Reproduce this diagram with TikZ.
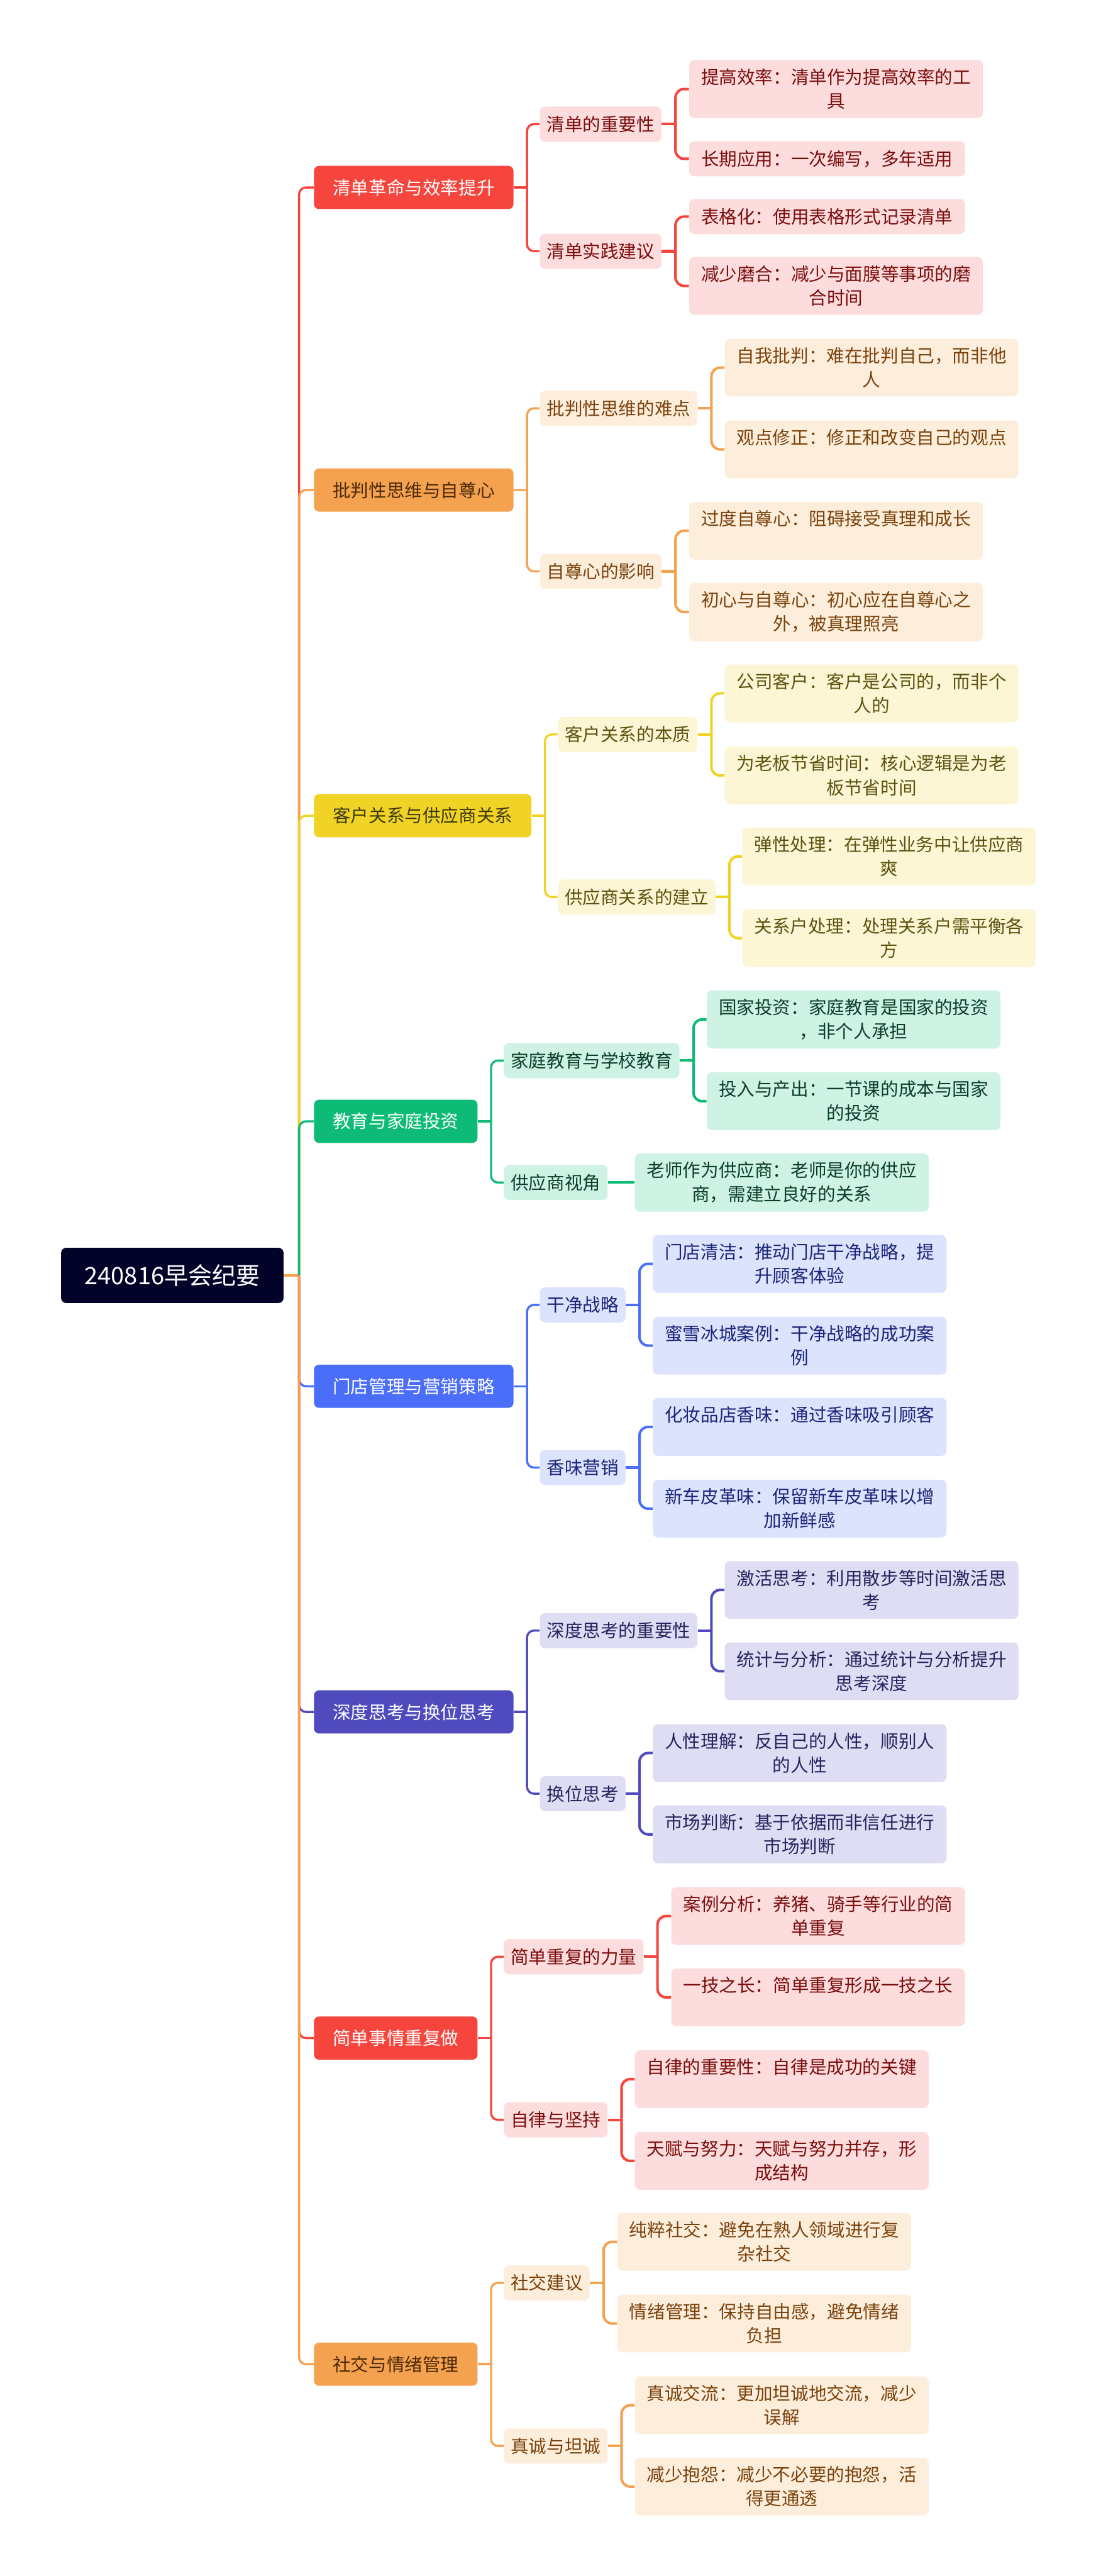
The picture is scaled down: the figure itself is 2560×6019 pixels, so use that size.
\documentclass[tikz,border=0pt]{standalone}
\usepackage{fontspec}
\setmainfont{Noto Sans CJK SC}
\usepackage{tikz}
\usetikzlibrary{positioning}
\definecolor{rootC}{HTML}{03032A}
\definecolor{redM}{HTML}{F5453D}\definecolor{redL}{HTML}{FCDCDC}\definecolor{redT}{HTML}{7B0C0C}
\definecolor{oraM}{HTML}{F4A250}\definecolor{oraL}{HTML}{FDEEDC}\definecolor{oraT}{HTML}{7A420C}\definecolor{oraD}{HTML}{4D2A05}
\definecolor{yelM}{HTML}{F1D326}\definecolor{yelL}{HTML}{FCF6D5}\definecolor{yelT}{HTML}{5C5210}\definecolor{yelD}{HTML}{3E3A0E}
\definecolor{grnM}{HTML}{0DBB77}\definecolor{grnL}{HTML}{CEF3E4}\definecolor{grnT}{HTML}{0B3D2B}
\definecolor{bluM}{HTML}{4B6EF9}\definecolor{bluL}{HTML}{DCE3FD}\definecolor{bluT}{HTML}{1B2678}
\definecolor{purM}{HTML}{4F4BBE}\definecolor{purL}{HTML}{DEDDF3}\definecolor{purT}{HTML}{27235E}
\tikzset{
  box/.style={rectangle,rounded corners=0.12cm,align=center,anchor=west,inner ysep=0pt},
  rootbox/.style={box,fill=rootC,text=white,font=\fontsize{15.9pt}{20pt}\selectfont,
    inner xsep=0.55cm,minimum height=1.29cm},
  topic/.style 2 args={box,fill=#1,text=#2,font=\fontsize{11.95pt}{15.94pt}\selectfont,
    inner xsep=0.44cm,minimum height=1.01cm},
  sub/.style 2 args={box,fill=#1,text=#2,font=\fontsize{11.95pt}{15.94pt}\selectfont,
    inner xsep=0.16cm,minimum height=0.82cm},
  leaf/.style 2 args={box,fill=#1,text=#2,font=\fontsize{11.95pt}{15.94pt}\selectfont,
    inner xsep=0.28cm,inner ysep=0.2cm,minimum height=0.82cm},
  trunk/.style={line width=0.05cm,rounded corners=0.16cm},
  twig/.style={line width=0.06cm,rounded corners=0.2cm},
}

\begin{document}
\begin{tikzpicture}[x=0.01cm,y=-0.01cm]
  \fill[white] (0,0) rectangle (2560,6019);
  \useasboundingbox (0,0) rectangle (2560,6019);

  \node[rootbox] (root) at (142,2980) {240816早会纪要};
  \coordinate (hub) at (699,2980);

  % 清单革命与效率提升
  \node[topic={redM}{white}] (b1) at (733,438) {清单革命与效率提升};
  \node[sub={redL}{redT}] (b1a) at (1261,290) {清单的重要性};
  \node[sub={redL}{redT}] (b1b) at (1261,587) {清单实践建议};
  \node[leaf={redL}{redT}] (b1a1) at (1610,208) {提高效率：清单作为提高效率的工\\具};
  \node[leaf={redL}{redT}] (b1a2) at (1610,371) {长期应用：一次编写，多年适用};
  \node[leaf={redL}{redT}] (b1b1) at (1610,506) {表格化：使用表格形式记录清单};
  \node[leaf={redL}{redT}] (b1b2) at (1610,668) {减少磨合：减少与面膜等事项的磨\\合时间};

  % 批判性思维与自尊心
  \node[topic={oraM}{oraD}] (b2) at (733,1145) {批判性思维与自尊心};
  \node[sub={oraL}{oraT}] (b2a) at (1261,954) {批判性思维的难点};
  \node[sub={oraL}{oraT}] (b2b) at (1261,1335) {自尊心的影响};
  \node[leaf={oraL}{oraT}] (b2a1) at (1693,859) {自我批判：难在批判自己，而非他\\人};
  \node[leaf={oraL}{oraT}] (b2a2) at (1693,1050) {观点修正：修正和改变自己的观点\\\phantom{观}};
  \node[leaf={oraL}{oraT}] (b2b1) at (1610,1240) {过度自尊心：阻碍接受真理和成长\\\phantom{观}};
  \node[leaf={oraL}{oraT}] (b2b2) at (1610,1430) {初心与自尊心：初心应在自尊心之\\外，被真理照亮};

  % 客户关系与供应商关系
  \node[topic={yelM}{yelD}] (b3) at (733,1906) {客户关系与供应商关系};
  \node[sub={yelL}{yelT}] (b3a) at (1303,1716) {客户关系的本质};
  \node[sub={yelL}{yelT}] (b3b) at (1303,2096) {供应商关系的建立};
  \node[leaf={yelL}{yelT}] (b3a1) at (1693,1620) {公司客户：客户是公司的，而非个\\人的};
  \node[leaf={yelL}{yelT}] (b3a2) at (1693,1812) {为老板节省时间：核心逻辑是为老\\板节省时间};
  \node[leaf={yelL}{yelT}] (b3b1) at (1734,2001) {弹性处理：在弹性业务中让供应商\\爽};
  \node[leaf={yelL}{yelT}] (b3b2) at (1734,2192) {关系户处理：处理关系户需平衡各\\方};

  % 教育与家庭投资
  \node[topic={grnM}{white}] (b4) at (733,2620) {教育与家庭投资};
  \node[sub={grnL}{grnT}] (b4a) at (1177,2478) {家庭教育与学校教育};
  \node[sub={grnL}{grnT}] (b4b) at (1177,2763) {供应商视角};
  \node[leaf={grnL}{grnT}] (b4a1) at (1651,2382) {国家投资：家庭教育是国家的投资\\，非个人承担};
  \node[leaf={grnL}{grnT}] (b4a2) at (1651,2573) {投入与产出：一节课的成本与国家\\的投资};
  \node[leaf={grnL}{grnT}] (b4b1) at (1483,2763) {老师作为供应商：老师是你的供应\\商，需建立良好的关系};

  % 门店管理与营销策略
  \node[topic={bluM}{white}] (b5) at (733,3239) {门店管理与营销策略};
  \node[sub={bluL}{bluT}] (b5a) at (1261,3049) {干净战略};
  \node[sub={bluL}{bluT}] (b5b) at (1261,3429) {香味营销};
  \node[leaf={bluL}{bluT}] (b5a1) at (1525,2953) {门店清洁：推动门店干净战略，提\\升顾客体验};
  \node[leaf={bluL}{bluT}] (b5a2) at (1525,3144) {蜜雪冰城案例：干净战略的成功案\\例};
  \node[leaf={bluL}{bluT}] (b5b1) at (1525,3334) {化妆品店香味：通过香味吸引顾客\\\phantom{观}};
  \node[leaf={bluL}{bluT}] (b5b2) at (1525,3525) {新车皮革味：保留新车皮革味以增\\加新鲜感};

  % 深度思考与换位思考
  \node[topic={purM}{white}] (b6) at (733,4000) {深度思考与换位思考};
  \node[sub={purL}{purT}] (b6a) at (1261,3810) {深度思考的重要性};
  \node[sub={purL}{purT}] (b6b) at (1261,4191) {换位思考};
  \node[leaf={purL}{purT}] (b6a1) at (1693,3715) {激活思考：利用散步等时间激活思\\考};
  \node[leaf={purL}{purT}] (b6a2) at (1693,3905) {统计与分析：通过统计与分析提升\\思考深度};
  \node[leaf={purL}{purT}] (b6b1) at (1525,4096) {人性理解：反自己的人性，顺别人\\的人性};
  \node[leaf={purL}{purT}] (b6b2) at (1525,4286) {市场判断：基于依据而非信任进行\\市场判断};

  % 简单事情重复做
  \node[topic={redM}{white}] (b7) at (733,4762) {简单事情重复做};
  \node[sub={redL}{redT}] (b7a) at (1177,4572) {简单重复的力量};
  \node[sub={redL}{redT}] (b7b) at (1177,4953) {自律与坚持};
  \node[leaf={redL}{redT}] (b7a1) at (1568,4477) {案例分析：养猪、骑手等行业的简\\单重复};
  \node[leaf={redL}{redT}] (b7a2) at (1568,4667) {一技之长：简单重复形成一技之长\\\phantom{观}};
  \node[leaf={redL}{redT}] (b7b1) at (1483,4858) {自律的重要性：自律是成功的关键\\\phantom{观}};
  \node[leaf={redL}{redT}] (b7b2) at (1483,5049) {天赋与努力：天赋与努力并存，形\\成结构};

  % 社交与情绪管理
  \node[topic={oraM}{oraD}] (b8) at (733,5524) {社交与情绪管理};
  \node[sub={oraL}{oraT}] (b8a) at (1177,5334) {社交建议};
  \node[sub={oraL}{oraT}] (b8b) at (1177,5715) {真诚与坦诚};
  \node[leaf={oraL}{oraT}] (b8a1) at (1442,5238) {纯粹社交：避免在熟人领域进行复\\杂社交};
  \node[leaf={oraL}{oraT}] (b8a2) at (1442,5429) {情绪管理：保持自由感，避免情绪\\负担};
  \node[leaf={oraL}{oraT}] (b8b1) at (1483,5620) {真诚交流：更加坦诚地交流，减少\\误解};
  \node[leaf={oraL}{oraT}] (b8b2) at (1483,5810) {减少抱怨：减少不必要的抱怨，活\\得更通透};

  % connectors, in branch order so the later ones lie on top
  \draw[trunk,oraM] (root.east) -- (hub);

  \draw[trunk,redM] (hub) |- (b1.west);
  \draw[trunk,redM] (b1.east) -- ++(31,0) coordinate (b1h);
  \draw[trunk,redM] (b1h) |- (b1a.west) (b1h) |- (b1b.west);
  \draw[twig,redM] (b1a.east) -- ++(32,0) coordinate (b1ah);
  \draw[twig,redM] (b1ah) |- (b1a1.west) (b1ah) |- (b1a2.west);
  \draw[twig,redM] (b1b.east) -- ++(32,0) coordinate (b1bh);
  \draw[twig,redM] (b1bh) |- (b1b1.west) (b1bh) |- (b1b2.west);

  \draw[trunk,oraM] (hub) |- (b2.west);
  \draw[trunk,oraM] (b2.east) -- ++(31,0) coordinate (b2h);
  \draw[trunk,oraM] (b2h) |- (b2a.west) (b2h) |- (b2b.west);
  \draw[twig,oraM] (b2a.east) -- ++(32,0) coordinate (b2ah);
  \draw[twig,oraM] (b2ah) |- (b2a1.west) (b2ah) |- (b2a2.west);
  \draw[twig,oraM] (b2b.east) -- ++(32,0) coordinate (b2bh);
  \draw[twig,oraM] (b2bh) |- (b2b1.west) (b2bh) |- (b2b2.west);

  \draw[trunk,yelM] (hub) |- (b3.west);
  \draw[trunk,yelM] (b3.east) -- ++(31,0) coordinate (b3h);
  \draw[trunk,yelM] (b3h) |- (b3a.west) (b3h) |- (b3b.west);
  \draw[twig,yelM] (b3a.east) -- ++(32,0) coordinate (b3ah);
  \draw[twig,yelM] (b3ah) |- (b3a1.west) (b3ah) |- (b3a2.west);
  \draw[twig,yelM] (b3b.east) -- ++(32,0) coordinate (b3bh);
  \draw[twig,yelM] (b3bh) |- (b3b1.west) (b3bh) |- (b3b2.west);

  \draw[trunk,grnM] (hub) |- (b4.west);
  \draw[trunk,grnM] (b4.east) -- ++(31,0) coordinate (b4h);
  \draw[trunk,grnM] (b4h) |- (b4a.west) (b4h) |- (b4b.west);
  \draw[twig,grnM] (b4a.east) -- ++(32,0) coordinate (b4ah);
  \draw[twig,grnM] (b4ah) |- (b4a1.west) (b4ah) |- (b4a2.west);
  \draw[twig,grnM] (b4b.east) -- (b4b1.west);

  \draw[trunk,bluM] (hub) |- (b5.west);
  \draw[trunk,bluM] (b5.east) -- ++(31,0) coordinate (b5h);
  \draw[trunk,bluM] (b5h) |- (b5a.west) (b5h) |- (b5b.west);
  \draw[twig,bluM] (b5a.east) -- ++(32,0) coordinate (b5ah);
  \draw[twig,bluM] (b5ah) |- (b5a1.west) (b5ah) |- (b5a2.west);
  \draw[twig,bluM] (b5b.east) -- ++(32,0) coordinate (b5bh);
  \draw[twig,bluM] (b5bh) |- (b5b1.west) (b5bh) |- (b5b2.west);

  \draw[trunk,purM] (hub) |- (b6.west);
  \draw[trunk,purM] (b6.east) -- ++(31,0) coordinate (b6h);
  \draw[trunk,purM] (b6h) |- (b6a.west) (b6h) |- (b6b.west);
  \draw[twig,purM] (b6a.east) -- ++(32,0) coordinate (b6ah);
  \draw[twig,purM] (b6ah) |- (b6a1.west) (b6ah) |- (b6a2.west);
  \draw[twig,purM] (b6b.east) -- ++(32,0) coordinate (b6bh);
  \draw[twig,purM] (b6bh) |- (b6b1.west) (b6bh) |- (b6b2.west);

  \draw[trunk,redM] (hub) |- (b7.west);
  \draw[trunk,redM] (b7.east) -- ++(31,0) coordinate (b7h);
  \draw[trunk,redM] (b7h) |- (b7a.west) (b7h) |- (b7b.west);
  \draw[twig,redM] (b7a.east) -- ++(32,0) coordinate (b7ah);
  \draw[twig,redM] (b7ah) |- (b7a1.west) (b7ah) |- (b7a2.west);
  \draw[twig,redM] (b7b.east) -- ++(32,0) coordinate (b7bh);
  \draw[twig,redM] (b7bh) |- (b7b1.west) (b7bh) |- (b7b2.west);

  \draw[trunk,oraM] (hub) |- (b8.west);
  \draw[trunk,oraM] (b8.east) -- ++(31,0) coordinate (b8h);
  \draw[trunk,oraM] (b8h) |- (b8a.west) (b8h) |- (b8b.west);
  \draw[twig,oraM] (b8a.east) -- ++(32,0) coordinate (b8ah);
  \draw[twig,oraM] (b8ah) |- (b8a1.west) (b8ah) |- (b8a2.west);
  \draw[twig,oraM] (b8b.east) -- ++(32,0) coordinate (b8bh);
  \draw[twig,oraM] (b8bh) |- (b8b1.west) (b8bh) |- (b8b2.west);
\end{tikzpicture}
\end{document}
